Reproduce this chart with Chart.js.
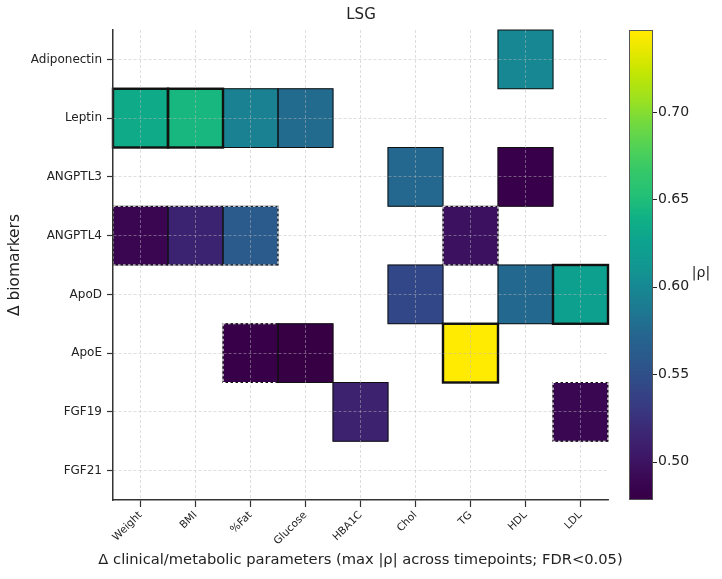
<!DOCTYPE html>
<html><head><meta charset="utf-8">
<script src="https://cdn.jsdelivr.net/npm/chart.js@4/dist/chart.umd.min.js"></script>
<style>html,body{margin:0;padding:0;background:#fff}#wrap{width:722px;height:579px;position:relative}</style>
</head><body><div id="wrap"><canvas id="c" width="722" height="579"></canvas></div>
<script>
// ---- data ----
const chartTitle = 'LSG';
const params = ['Weight','BMI','%Fat','Glucose','HBA1C','Chol','TG','HDL','LDL'];
const biomarkers = ['Adiponectin','Leptin','ANGPTL3','ANGPTL4','ApoD','ApoE','FGF19','FGF21'];
const cellBiomarker = ['Adiponectin','Leptin','Leptin','Leptin','Leptin','ANGPTL3','ANGPTL3','ANGPTL4','ANGPTL4','ANGPTL4','ANGPTL4','ApoD','ApoD','ApoD','ApoE','ApoE','ApoE','FGF19','FGF19'];
const cellParam     = ['HDL','Weight','BMI','%Fat','Glucose','Chol','HDL','Weight','BMI','%Fat','TG','Chol','HDL','LDL','%Fat','Glucose','TG','HBA1C','LDL'];
const cellRho       = [0.599,0.634,0.645,0.594,0.576,0.574,0.482,0.488,0.513,0.561,0.499,0.543,0.575,0.623,0.481,0.478,0.747,0.512,0.489];
const cellEvidence  = ['normal','robust','robust','normal','normal','normal','normal','single','single','single','single','normal','normal','robust','single','normal','robust','normal','single'];
const rhoTicks = [0.50,0.55,0.60,0.65,0.70];
const xTitle = 'Δ clinical/metabolic parameters (max |ρ| across timepoints; FDR<0.05)';
const yTitle = 'Δ biomarkers';
const cbTitle = '|ρ|';

// ---- colour map (viridis, tuned to the reference's rendering) ----
const VIR = ['#440154','#471164','#482475','#46337f','#414487','#3b528b','#355f8d','#30698e','#2a788e','#25848e','#21918c','#1e9b8a','#22a884','#35b779','#44bf70','#5ec962','#7ad151','#9fda3a','#bddf26','#dfe318','#fde725'];
const VIRrgb = VIR.map(h => [parseInt(h.slice(1,3),16),parseInt(h.slice(3,5),16),parseInt(h.slice(5,7),16)]);
function viridis(t){
  t = Math.max(0, Math.min(1, t));
  const p = t * (VIRrgb.length - 1);
  const i = Math.min(Math.floor(p), VIRrgb.length - 2);
  const f = p - i;
  const a = VIRrgb[i], b = VIRrgb[i+1];
  let c = [0,1,2].map(k => a[k] + (b[k]-a[k])*f);
  const L = 0.299*c[0] + 0.587*c[1] + 0.114*c[2];
  const dark = 0.62 + 0.38 * Math.min(1, L / 110);
  c = c.map(v => Math.max(0, Math.min(255, (L + (v - L) * 1.2) * dark)));
  return 'rgb(' + c.map(Math.round).join(',') + ')';
}
const rhoMin = Math.min(...cellRho), rhoMax = Math.max(...cellRho);
const norm = v => (v - rhoMin) / (rhoMax - rhoMin);

const FONT = "'DejaVu Sans', sans-serif";
const TXT = '#222';

const datasets = biomarkers.map((b, r) => {
  const idx = cellBiomarker.map((bb, i) => bb === b ? i : -1).filter(i => i >= 0);
  return {
    label: b,
    data: idx.map(i => ({x: cellParam[i], y: [r - 0.5, r + 0.5], rho: cellRho[i], ev: cellEvidence[i], row: r, col: params.indexOf(cellParam[i])})),
    backgroundColor: ctx => ctx.raw ? viridis(norm(ctx.raw.rho)) : '#000',
    borderWidth: 0,
    grouped: false,
    barPercentage: 1,
    categoryPercentage: 1
  };
});

const occupied = new Set(cellBiomarker.map((b, i) => biomarkers.indexOf(b) + ',' + params.indexOf(cellParam[i])));

const cellEdges = {
  id: 'cellEdges',
  afterDatasetsDraw(chart) {
    const ctx = chart.ctx;
    const rects = [];
    chart.data.datasets.forEach((ds, di) => {
      const meta = chart.getDatasetMeta(di);
      meta.data.forEach((el, j) => {
        const p = el.getProps(['x','y','base','width'], true);
        rects.push({l: p.x - p.width/2, r: p.x + p.width/2, t: Math.min(p.y, p.base), b: Math.max(p.y, p.base), d: ds.data[j]});
      });
    });
    ctx.save();
    ctx.strokeStyle = '#111';
    ctx.lineWidth = 1;
    rects.forEach(q => ctx.strokeRect(q.l, q.t, q.r - q.l, q.b - q.t));
    ctx.lineWidth = 2.4;
    rects.filter(q => q.d.ev === 'robust').forEach(q => ctx.strokeRect(q.l, q.t, q.r - q.l, q.b - q.t));
    ctx.lineWidth = 1.2;
    ctx.strokeStyle = '#fff';
    ctx.setLineDash([2.5, 2.5]);
    rects.filter(q => q.d.ev === 'single').forEach(q => {
      const {row, col} = q.d;
      const segs = [];
      if (!occupied.has((row-1)+','+col)) segs.push([q.l, q.t, q.r, q.t]);
      if (!occupied.has((row+1)+','+col)) segs.push([q.l, q.b, q.r, q.b]);
      if (!occupied.has(row+','+(col-1))) segs.push([q.l, q.t, q.l, q.b]);
      if (!occupied.has(row+','+(col+1))) segs.push([q.r, q.t, q.r, q.b]);
      segs.forEach(s => { ctx.beginPath(); ctx.moveTo(s[0], s[1]); ctx.lineTo(s[2], s[3]); ctx.stroke(); });
    });
    ctx.restore();
  }
};

const extras = {
  id: 'extras',
  afterDraw(chart) {
    const sc = chart.scales.cb;
    const ctx = chart.ctx;
    const ca = chart.chartArea;
    const x0 = ca.right + 21, w = 24;
    ctx.save();
    for (let y = Math.floor(sc.top); y < Math.ceil(sc.bottom); y++) {
      const v = sc.getValueForPixel(y + 0.5);
      ctx.fillStyle = viridis(norm(v));
      ctx.fillRect(x0, y, w, 1);
    }
    ctx.strokeStyle = '#555';
    ctx.lineWidth = 1;
    ctx.strokeRect(x0 + 0.5, sc.top + 0.5, w - 1, sc.bottom - sc.top - 1);
    ctx.strokeStyle = '#222';
    rhoTicks.forEach(v => {
      const y = Math.round(sc.getPixelForValue(v)) + 0.5;
      ctx.beginPath(); ctx.moveTo(x0 + w, y); ctx.lineTo(x0 + w + 4, y); ctx.stroke();
    });
    ctx.fillStyle = TXT;
    ctx.font = '14px ' + FONT;
    ctx.textAlign = 'center';
    ctx.textBaseline = 'middle';
    ctx.fillText(cbTitle, 701, 273);
    // x-axis title (wider than the plot area, so drawn without width clamp)
    ctx.font = '14.7px ' + FONT;
    ctx.fillText(xTitle, (ca.left + ca.right) / 2, 560);
    ctx.restore();
  }
};

new Chart(document.getElementById('c'), {
  type: 'bar',
  data: { labels: params, datasets },
  options: {
    responsive: false,
    animation: false,
    devicePixelRatio: 1,
    layout: { padding: 0 },
    plugins: {
      legend: { display: false },
      tooltip: { enabled: false },
      title: { display: true, text: chartTitle, color: TXT, font: { family: FONT, size: 15, weight: 'normal' }, padding: { top: 6, bottom: 6 } }
    },
    scales: {
      x: {
        type: 'category',
        offset: true,
        grid: { offset: false, color: 'rgba(185,185,185,0.6)', lineWidth: 0.8, z: 1, tickColor: '#333', tickLength: 7, tickWidth: 1.2 },
        border: { color: '#333', width: 1.5, dash: [3, 2], z: 2 },
        ticks: { color: TXT, font: { family: FONT, size: 10.5 }, maxRotation: 45, minRotation: 45, padding: 2, autoSkip: false },
        title: { display: false },
        afterFit(s) { s.height = 79; }
      },
      y: {
        type: 'linear',
        reverse: true,
        min: -0.5,
        max: biomarkers.length - 0.5,
        afterBuildTicks(s) { s.ticks = biomarkers.map((_, i) => ({ value: i })); },
        grid: { color: 'rgba(185,185,185,0.6)', lineWidth: 0.8, z: 1, tickColor: '#333', tickLength: 6, tickWidth: 1.2 },
        border: { color: '#333', width: 1.5, dash: [3, 2], z: 2 },
        ticks: { color: TXT, font: { family: FONT, size: 12 }, padding: 5, callback: v => biomarkers[v] },
        title: { display: true, text: yTitle, color: TXT, font: { family: FONT, size: 15.4 }, padding: { top: 6, bottom: 0 } },
        afterFit(s) { s.width = 113; }
      },
      cb: {
        type: 'linear',
        position: 'right',
        min: rhoMin,
        max: rhoMax,
        afterBuildTicks(s) { s.ticks = rhoTicks.map(v => ({ value: v })); },
        grid: { drawOnChartArea: false, drawTicks: true, tickLength: 48, tickColor: 'rgba(0,0,0,0)' },
        border: { display: false },
        ticks: { color: TXT, font: { family: FONT, size: 14 }, padding: 2, callback: v => v.toFixed(2) },
        afterFit(s) { s.width = 114; }
      }
    }
  },
  plugins: [cellEdges, extras]
});
</script>
</body></html>
